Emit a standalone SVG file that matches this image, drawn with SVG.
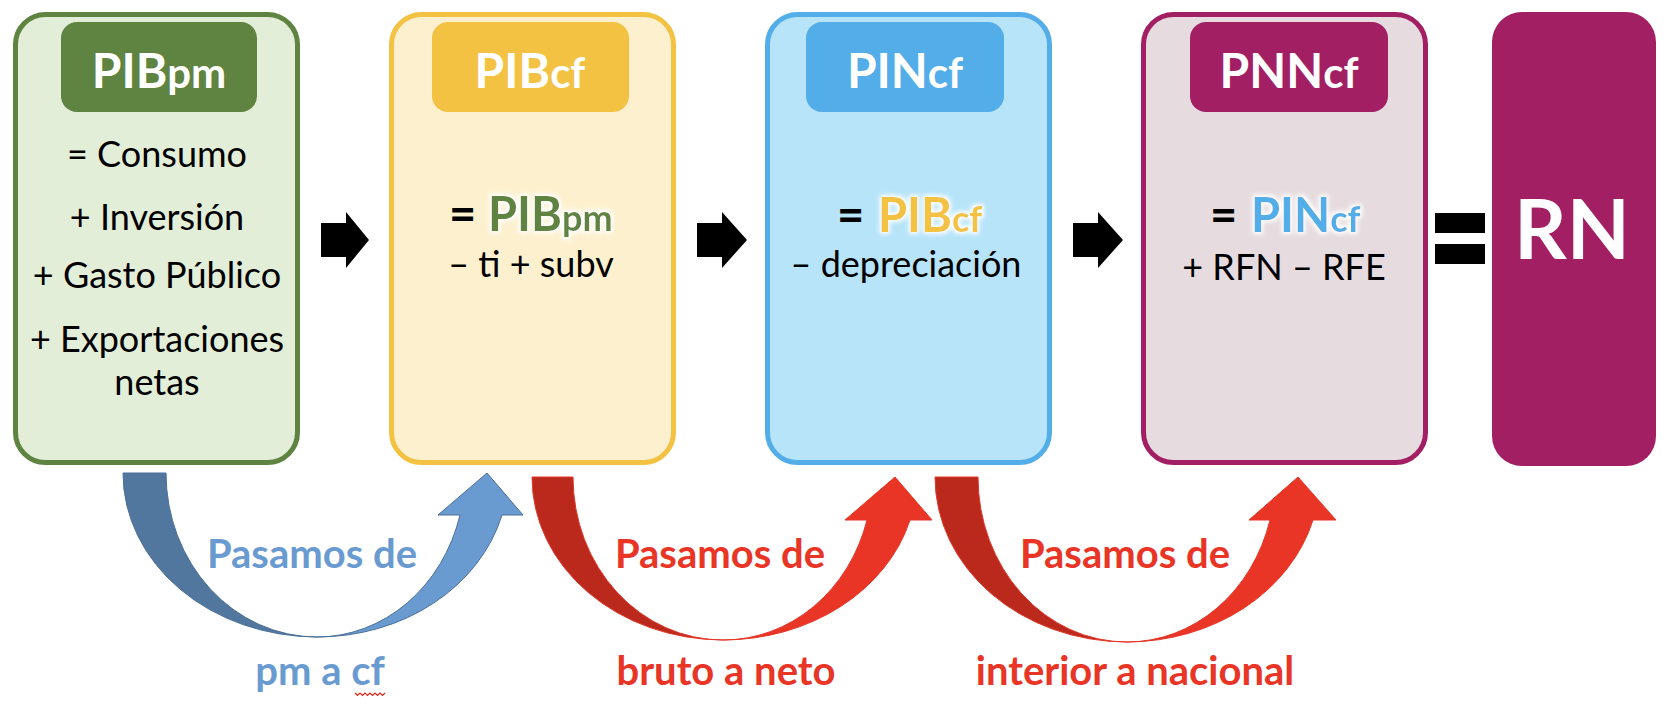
<svg xmlns="http://www.w3.org/2000/svg" width="1672" height="712" viewBox="0 0 1672 712">
<defs>
<style>
.hd{font-family:Lato,"Open Sans","Liberation Sans",sans-serif;font-weight:700;font-size:48px;fill:#fff;text-anchor:middle}
.sub{font-size:42px}
.body{font-family:Lato,"Open Sans","Liberation Sans",sans-serif;font-size:36px;fill:#000;text-anchor:middle}
.big{font-family:Lato,"Open Sans","Liberation Sans",sans-serif;font-weight:700;font-size:47px}
.sm{font-size:36px}
.lbl{font-family:Lato,"Open Sans","Liberation Sans",sans-serif;font-weight:700;font-size:40px;text-anchor:middle}
.blk{fill:#000}
.box{stroke-width:5}
</style>
<filter id="glow" x="-20%" y="-40%" width="140%" height="180%">
<feMorphology in="SourceAlpha" operator="dilate" radius="2" result="d"/>
<feGaussianBlur in="d" stdDeviation="2" result="b"/>
<feFlood flood-color="#ffffff"/>
<feComposite in2="b" operator="in" result="g"/>
<feMerge><feMergeNode in="g"/><feMergeNode in="SourceGraphic"/></feMerge>
</filter>
</defs>
<rect width="1672" height="712" fill="#fff"/>

<g id="pibpm">
<rect class="box" x="15.5" y="14.5" width="282" height="448" rx="30" fill="#e3eed8" stroke="#5f8340"/>
<rect x="61" y="22" width="196" height="90" rx="16" fill="#5f8340"/>
<text class="hd" x="159" y="88">PIB<tspan class="sub">pm</tspan></text>
<text class="body" x="157" y="167">= Consumo</text>
<text class="body" x="157" y="230">+ Inversión</text>
<text class="body" x="157" y="288">+ Gasto Público</text>
<text class="body" x="157" y="352">+ Exportaciones</text>
<text class="body" x="157" y="395">netas</text>
</g>

<g id="pibcf">
<rect class="box" x="391.5" y="14.5" width="282" height="448" rx="30" fill="#fcf0cf" stroke="#f4c243"/>
<rect x="432" y="22" width="197" height="90" rx="16" fill="#f4c243"/>
<text class="hd" x="530" y="88">PIB<tspan class="sub">cf</tspan></text>
<text class="big blk" x="449" y="231">=</text>
<text class="big" x="488" y="231" fill="#5f8340" filter="url(#glow)">PIB<tspan class="sm">pm</tspan></text>
<text class="body" x="531" y="277">– ti + subv</text>
</g>

<g id="pincf">
<rect class="box" x="767.5" y="14.5" width="282" height="448" rx="30" fill="#b7e4f9" stroke="#52ade8"/>
<rect x="806" y="22" width="198" height="90" rx="16" fill="#52ade8"/>
<text class="hd" x="905" y="88">PIN<tspan class="sub">cf</tspan></text>
<text class="big blk" x="837" y="232">=</text>
<text class="big" x="878" y="232" fill="#f4c243" filter="url(#glow)">PIB<tspan class="sm">cf</tspan></text>
<text class="body" x="906" y="277">– depreciación</text>
</g>

<g id="pnncf">
<rect class="box" x="1143.5" y="14.5" width="282" height="448" rx="30" fill="#e6dce0" stroke="#a31f64"/>
<rect x="1190" y="22" width="198" height="90" rx="16" fill="#a31f64"/>
<text class="hd" x="1289" y="88">PNN<tspan class="sub">cf</tspan></text>
<text class="big blk" x="1210" y="232">=</text>
<text class="big" x="1251" y="232" fill="#52ade8" filter="url(#glow)">PIN<tspan class="sm">cf</tspan></text>
<text class="body" x="1284" y="280">+ RFN – RFE</text>
</g>

<g id="equals">
<rect x="1435" y="213" width="50" height="20" fill="#000"/>
<rect x="1435" y="244" width="50" height="20" fill="#000"/>
</g>

<g id="rn">
<rect x="1492" y="12" width="164" height="454" rx="30" fill="#a31f64"/>
<text class="hd" x="1572" y="259" style="font-size:82px">RN</text>
</g>

<g id="connectors">
<polygon points="321,223 346,223 346,212 369,240 346,268 346,257 321,257" fill="#000"/>
<polygon points="697,223 722,223 722,212 747,240 722,268 722,257 697,257" fill="#000"/>
<polygon points="1073,223 1098,223 1098,212 1123,240 1098,268 1098,257 1073,257" fill="#000"/>

<path d="M123,473 A194,164 0 0,0 317,637 A151,164 0 0,1 166,473 Z" fill="#52779f" stroke="#4a6f98" stroke-width="1"/>
<path d="M317,637 A191,164 0 0,0 502,515 L523,515 L487,473 L438,515 L460,515 A148,164 0 0,1 317,637 Z" fill="#6a9bd0" stroke="#4a6f98" stroke-width="1"/>

<path d="M532,477 A191,163 0 0,0 723,640 A150,163 0 0,1 573,477 Z" fill="#bb281c" stroke="#e2392b" stroke-width="1"/>
<path d="M723,640 A194,163 0 0,0 910,520 L932,520 L895,477 L845,520 L867,520 A149,163 0 0,1 723,640 Z" fill="#e83526" stroke="#e83526" stroke-width="1"/>

<path d="M935,477 A192,165 0 0,0 1127,642 A149,165 0 0,1 978,477 Z" fill="#bb281c" stroke="#e2392b" stroke-width="1"/>
<path d="M1127,642 A193,165 0 0,0 1313,520 L1336,520 L1298,477 L1249,520 L1270,520 A148,165 0 0,1 1127,642 Z" fill="#e83526" stroke="#e83526" stroke-width="1"/>

<text class="lbl" x="312" y="568" fill="#6a9bd0">Pasamos de</text>
<text class="lbl" x="320" y="685" fill="#6a9bd0">pm a cf</text>
<path d="M355,693 l2.5,2.5 l2.5,-2.5 l2.5,2.5 l2.5,-2.5 l2.5,2.5 l2.5,-2.5 l2.5,2.5 l2.5,-2.5 l2.5,2.5 l2.5,-2.5 l2.5,2.5 l2.5,-2.5" fill="none" stroke="#e0261c" stroke-width="1.2"/>
<text class="lbl" x="720" y="568" fill="#e83526">Pasamos de</text>
<text class="lbl" x="726" y="685" fill="#e83526">bruto a neto</text>
<text class="lbl" x="1125" y="568" fill="#e83526">Pasamos de</text>
<text class="lbl" x="1135" y="685" fill="#e83526">interior a nacional</text>
</g>
</svg>
